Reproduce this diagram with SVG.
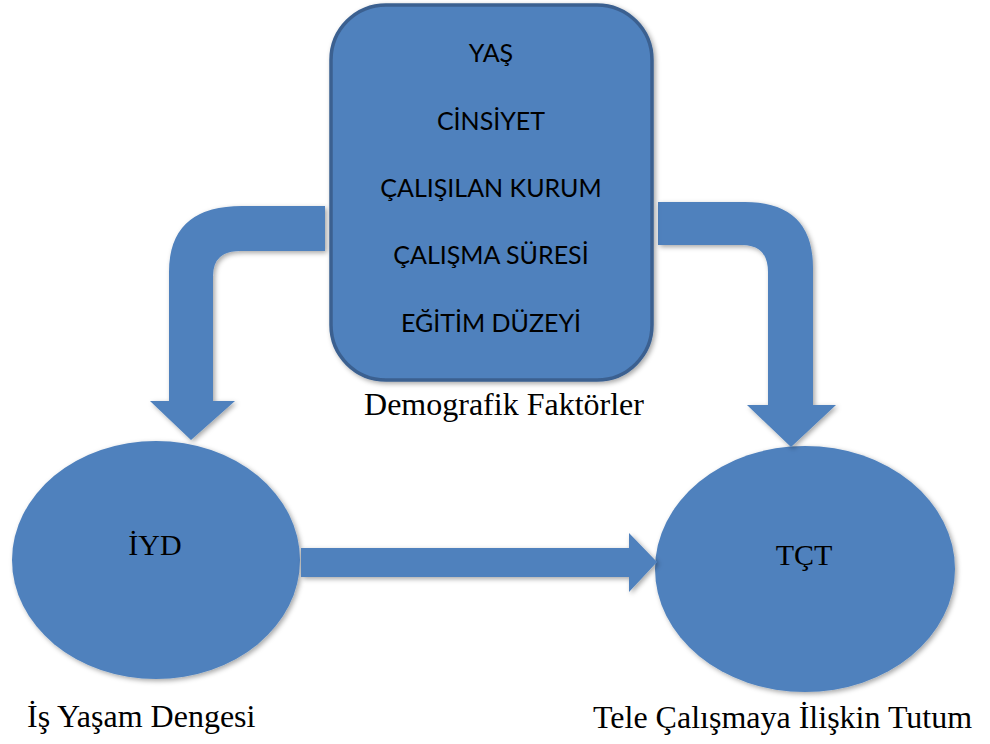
<svg xmlns="http://www.w3.org/2000/svg" width="990" height="744" viewBox="0 0 990 744">
<style>
.shape{fill:#4f81bd;}
.box{fill:#4f81bd;stroke:#3b6090;stroke-width:3.5;}
.arrow{fill:#4f81bd;filter:url(#sh);}
.in{font-family:Lato,"Open Sans","Noto Sans",sans-serif;font-size:25px;fill:#000;text-anchor:middle;}
.ser{font-family:"Liberation Serif","Times New Roman",serif;font-size:32px;fill:#000;}
.ab{font-family:"Liberation Serif","Times New Roman",serif;font-size:30px;fill:#000;text-anchor:middle;}
</style>
<defs>
<filter id="sh" x="-20%" y="-20%" width="140%" height="140%">
<feDropShadow dx="2" dy="2" stdDeviation="2.5" flood-color="#000" flood-opacity="0.35"/>
</filter>
</defs>
<rect width="990" height="744" fill="#fff"/>
<g id="iyd">
<ellipse class="shape" cx="156" cy="560" rx="144" ry="119" filter="url(#sh)"/>
<text class="ab" x="155" y="555">İYD</text>
<text class="ser" x="27" y="727">İş Yaşam Dengesi</text>
</g>
<g id="tct">
<ellipse class="shape" cx="805" cy="569" rx="150" ry="123" filter="url(#sh)"/>
<text class="ab" x="804" y="565">TÇT</text>
<text class="ser" x="593" y="728">Tele Çalışmaya İlişkin Tutum</text>
</g>
<g id="connectors">
<path class="arrow" d="M325,206 L242,206 Q169,206 169,272 L169,401 L150,401 L191,440 L235,401 L213,401 L213,276 Q213,251 240,251 L325,251 Z"/>
<path class="arrow" d="M658,202 L745,202 Q813,202 813,268 L813,405 L836,405 L791,447 L747,405 L768,405 L768,272 Q768,245 742,245 L658,245 Z"/>
<path class="arrow" d="M301,548 L629,548 L629,533 L657,562 L629,592 L629,577 L301,577 Z"/>
</g>
<g id="demografik">
<rect class="box" x="331" y="5" width="321" height="375" rx="55" ry="55" filter="url(#sh)"/>
<text class="in" x="491" y="62">YAŞ</text>
<text class="in" x="491" y="130">CİNSİYET</text>
<text class="in" x="491" y="197">ÇALIŞILAN KURUM</text>
<text class="in" x="491" y="264">ÇALIŞMA SÜRESİ</text>
<text class="in" x="491" y="332">EĞİTİM DÜZEYİ</text>
<text class="ser" x="504" y="415" text-anchor="middle">Demografik Faktörler</text>
</g>
</svg>
